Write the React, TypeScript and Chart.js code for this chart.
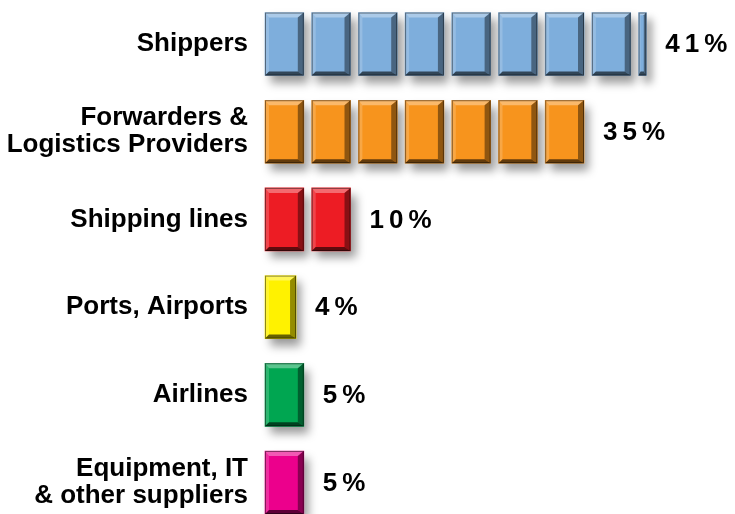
import React, { useEffect, useRef } from "react";
import { Chart, registerables } from "chart.js";

Chart.register(...registerables);

const categories: (string | string[])[] = [
  "Shippers",
  ["Forwarders &", "Logistics Providers"],
  "Shipping lines",
  "Ports, Airports",
  "Airlines",
  ["Equipment, IT", "& other suppliers"],
];
const shares: number[] = [41, 35, 10, 4, 5, 5];
const rowColors: string[] = ["#7eaedc", "#f7941d", "#ed1c24", "#fff200", "#00a651", "#ec008c"];

const UNIT = 5; // percent per block
const BLOCK_FRAC = 0.831; // block width relative to block pitch
const MAX_BLOCKS = Math.ceil(Math.max(...shares) / UNIT);

const FONT = "'Liberation Sans', Arial, Helvetica, sans-serif";

function blockData(i: number) {
  return shares.map((v) => {
    const f = Math.min(1, Math.max(0, (v - UNIT * i) / UNIT));
    return f > 0 ? [UNIT * i, UNIT * i + UNIT * BLOCK_FRAC * f] : null;
  });
}

const shadowPlugin = {
  id: "blockShadow",
  beforeDatasetsDraw(chart: any) {
    const ctx = chart.ctx;
    ctx.save();
    ctx.shadowColor = "rgba(0,0,0,0.4)";
    ctx.shadowBlur = 9;
    ctx.shadowOffsetX = 5;
    ctx.shadowOffsetY = 7;
  },
  afterDatasetsDraw(chart: any) {
    const ctx = chart.ctx;
    ctx.restore();
    chart.data.datasets.forEach((_: any, di: number) => {
      const meta = chart.getDatasetMeta(di);
      meta.data.forEach((el: any, row: number) => {
        if (chart.data.datasets[di].data[row] == null) return;
        const p = el.getProps(["x", "y", "base", "height"], true);
        if (p.x == null || isNaN(p.x)) return;
        const l = Math.min(p.x, p.base);
        const r = Math.max(p.x, p.base);
        const t = p.y - p.height / 2;
        const b = p.y + p.height / 2;
        const w = r - l;
        if (w <= 0.5) return;
        const bt = Math.min(5, w / 3);
        const br = Math.min(6, w / 3);
        const bl = Math.min(4, w / 4);
        const bb = 4;
        const poly = (pts: number[][], fill: string) => {
          ctx.beginPath();
          ctx.moveTo(pts[0][0], pts[0][1]);
          for (let k = 1; k < pts.length; k++) ctx.lineTo(pts[k][0], pts[k][1]);
          ctx.closePath();
          ctx.fillStyle = fill;
          ctx.fill();
        };
        ctx.save();
        poly([[l, t], [r, t], [r - br, t + bt], [l + bl, t + bt]], "rgba(255,255,255,0.35)");
        poly([[l, t], [l + bl, t + bt], [l + bl, b - bb], [l, b]], "rgba(255,255,255,0.18)");
        poly([[r, t], [r, b], [r - br, b - bb], [r - br, t + bt]], "rgba(0,0,0,0.42)");
        poly([[l, b], [l + bl, b - bb], [r - br, b - bb], [r, b]], "rgba(0,0,0,0.6)");
        ctx.strokeStyle = "rgba(0,0,0,0.45)";
        ctx.lineWidth = 1;
        ctx.strokeRect(l + 0.5, t + 0.5, w - 1, b - t - 1);
        ctx.restore();
      });
    });
  },
};

const valueLabelPlugin = {
  id: "valueLabels",
  afterDraw(chart: any) {
    const ctx = chart.ctx;
    const yScale = chart.scales.y;
    ctx.save();
    ctx.font = `bold 26px ${FONT}`;
    ctx.fillStyle = "#000";
    ctx.textAlign = "left";
    ctx.textBaseline = "middle";
    try {
      (ctx as any).letterSpacing = "5px";
    } catch (e) {}
    shares.forEach((v, row) => {
      let end = -Infinity;
      chart.data.datasets.forEach((_: any, di: number) => {
        if (chart.data.datasets[di].data[row] == null) return;
        const el = chart.getDatasetMeta(di).data[row];
        if (!el) return;
        const p = el.getProps(["x", "base"], true);
        if (p.x != null && !isNaN(p.x)) end = Math.max(end, p.x, p.base);
      });
      const y = yScale.getPixelForValue(row);
      ctx.fillText(`${v}%`, end + 19, y + 1);
    });
    ctx.restore();
  },
};

export default function App() {
  const ref = useRef<HTMLCanvasElement | null>(null);
  useEffect(() => {
    document.body.style.margin = "0";
    const datasets = Array.from({ length: MAX_BLOCKS }, (_, i) => ({
      label: `block ${i + 1}`,
      data: blockData(i),
      backgroundColor: rowColors,
      borderWidth: 0,
      grouped: false,
      barThickness: 63,
      clip: false as any,
      order: MAX_BLOCKS - i,
    }));
    const chart = new Chart(ref.current as HTMLCanvasElement, {
      type: "bar",
      data: { labels: categories as any, datasets: datasets as any },
      options: {
        indexAxis: "y",
        animation: false,
        responsive: true,
        maintainAspectRatio: false,
        layout: { padding: { top: 38.5, bottom: 31.5, left: 0, right: 3 } },
        plugins: { legend: { display: false }, tooltip: { enabled: false } },
        scales: {
          x: { type: "linear", min: 0, max: 50, display: false },
          y: {
            type: "category",
            offset: false,
            grid: { display: false, drawTicks: false },
            border: { display: false },
            ticks: {
              color: "#000",
              padding: 17,
              font: { family: FONT, weight: "bold", size: 26, lineHeight: 1.04 },
            },
            afterFit(scale: any) {
              scale.width = 265;
            },
          },
        },
      },
      plugins: [shadowPlugin, valueLabelPlugin],
    });
    return () => chart.destroy();
  }, []);
  return (
    <div style={{ position: "fixed", left: 0, top: 0, width: 735, height: 514, background: "#fff" }}>
      <canvas ref={ref} />
    </div>
  );
}
